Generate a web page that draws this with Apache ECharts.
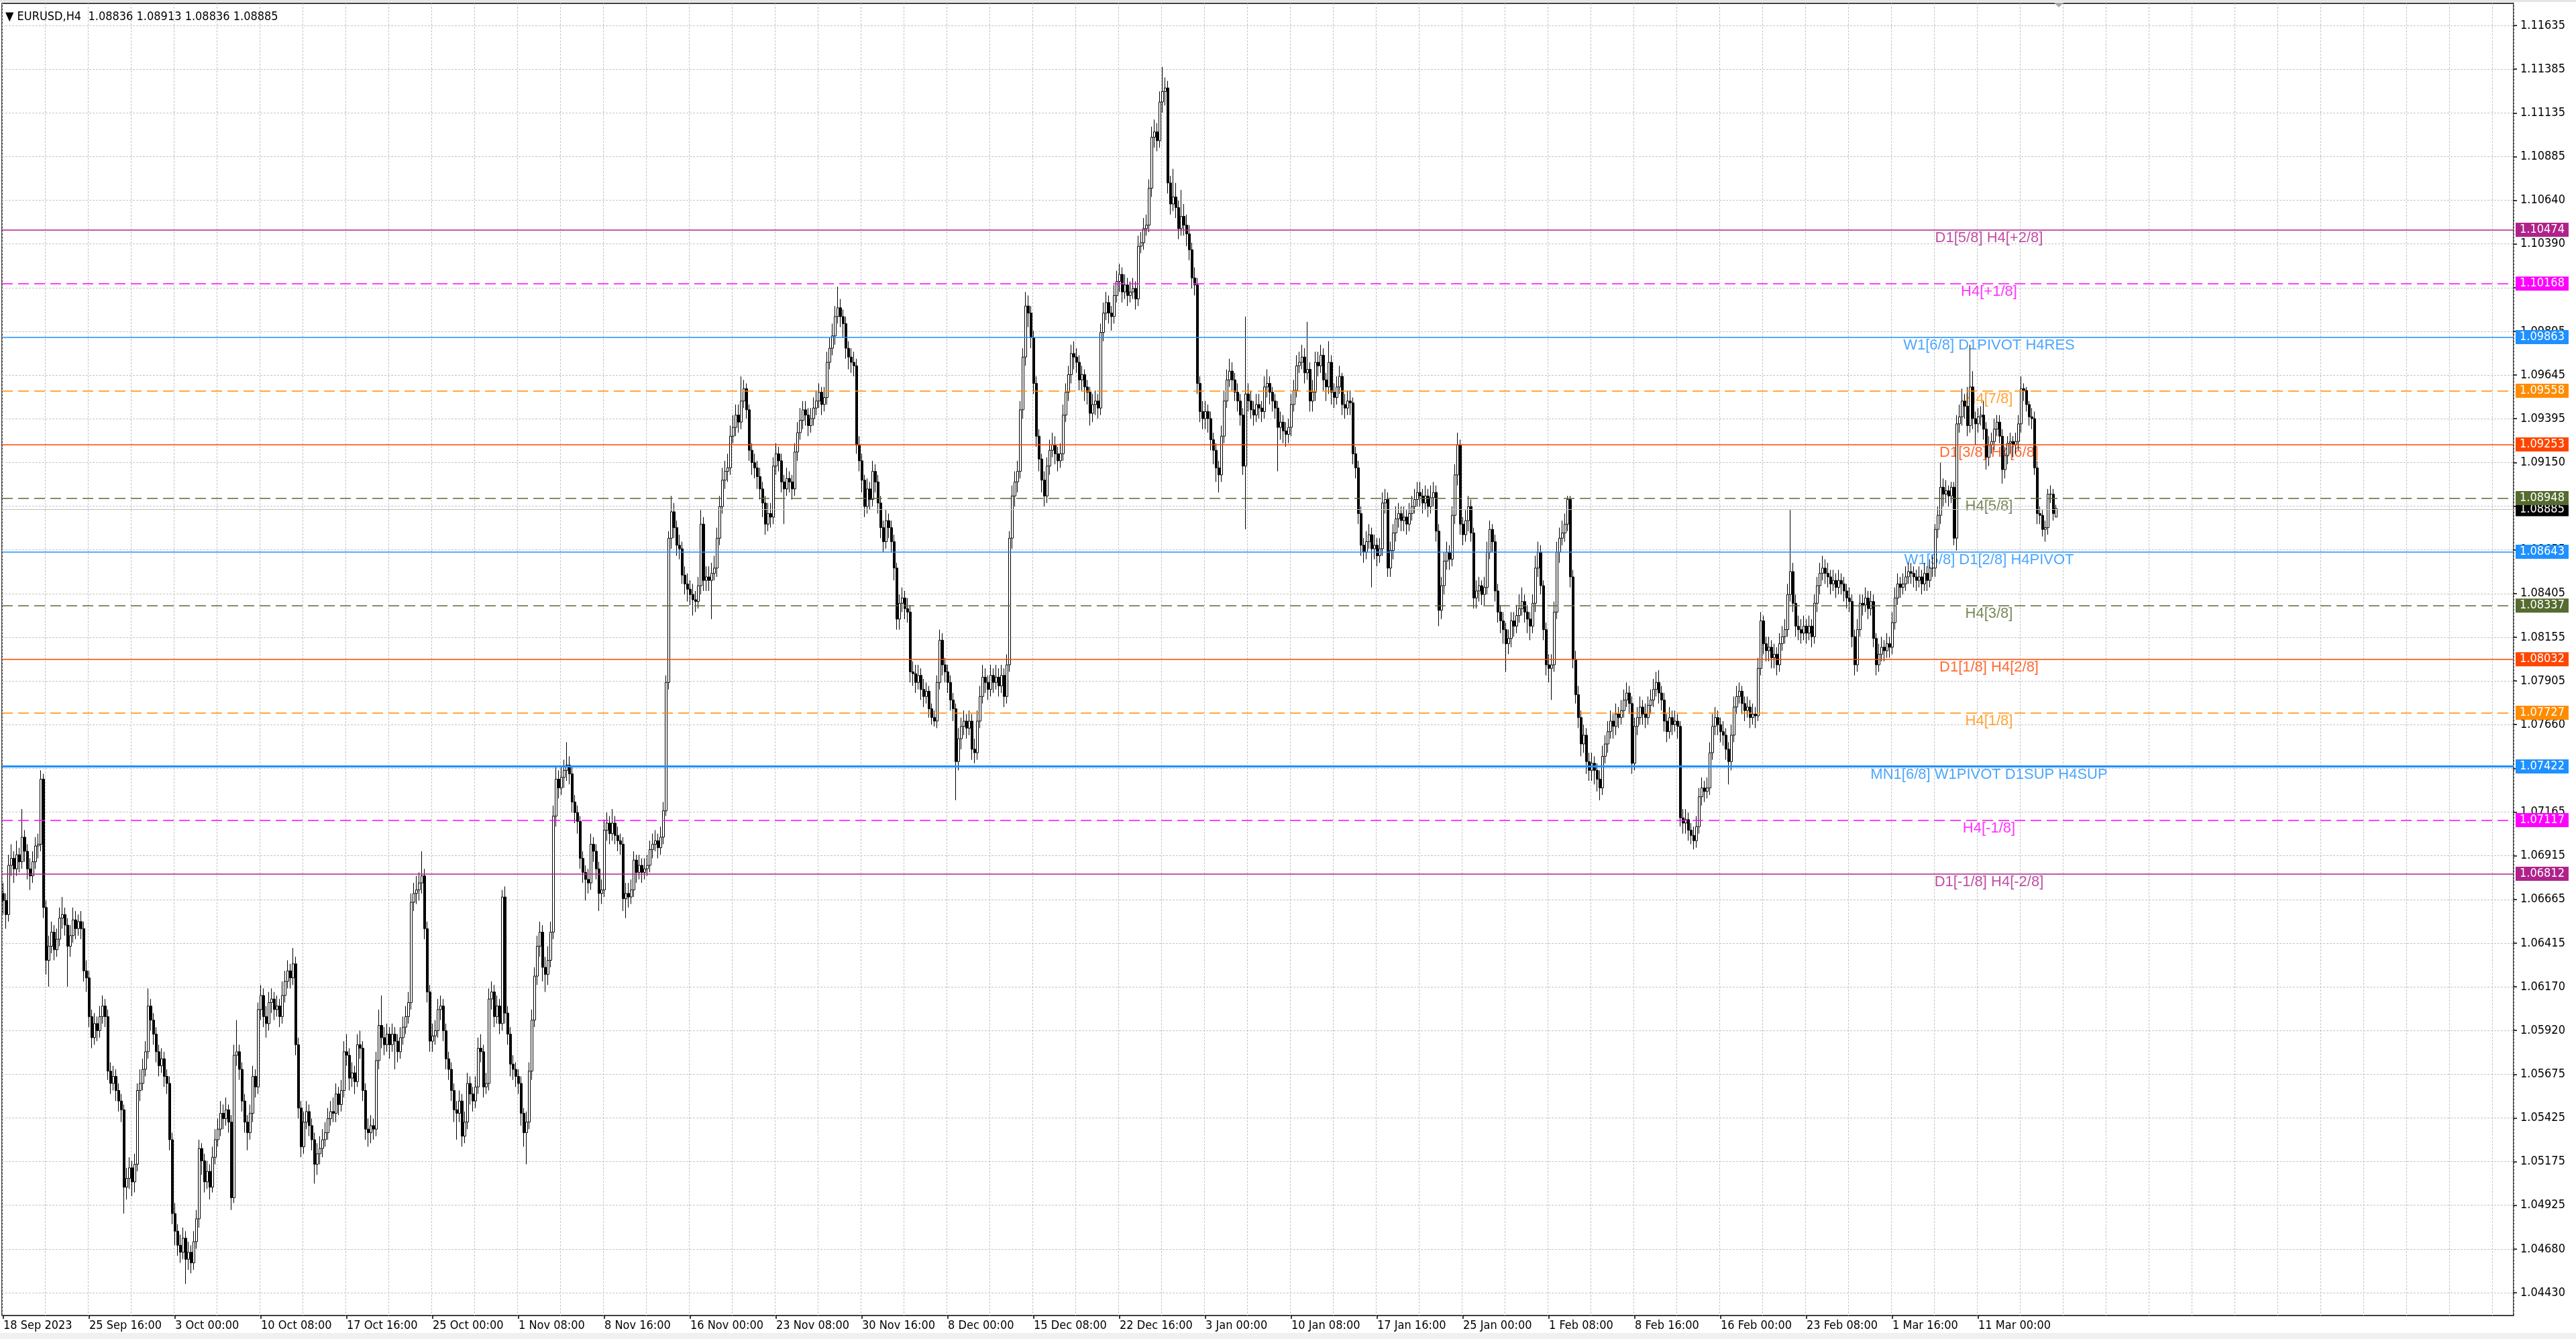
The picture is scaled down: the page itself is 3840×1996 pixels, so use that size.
<!DOCTYPE html>
<html lang="en">
<head>
<meta charset="UTF-8">
<title>EURUSD,H4</title>
<script src="https://cdn.jsdelivr.net/npm/echarts@6.0.0/dist/echarts.min.js"></script>
<style>
    html, body { margin: 0; padding: 0; background: #ffffff; }
    #main { width: 3840px; height: 1996px; }
</style>
</head>
<body>
<div id="main"></div>
<script type="text/javascript">
// H4 bars, prices in pips (price * 10000), one row = 16 bars
var opens = [
10670,10666,10658,10686,10690,10684,10692,10688,10702,10694,10684,10680,10688,10697,10698,10735,
10662,10632,10640,10648,10638,10644,10656,10658,10652,10640,10646,10655,10650,10654,10650,10626,
10622,10600,10588,10596,10592,10600,10606,10600,10569,10562,10566,10558,10552,10547,10503,10508,
10514,10506,10516,10558,10562,10570,10580,10606,10598,10590,10580,10572,10576,10566,10562,10530,
10488,10478,10470,10466,10474,10462,10466,10460,10472,10485,10525,10518,10506,10512,10503,10520,
10530,10536,10545,10542,10547,10540,10497,10578,10580,10570,10552,10540,10534,10545,10566,10560,
10604,10612,10600,10596,10608,10610,10604,10606,10600,10612,10620,10626,10622,10630,10584,10548,
10526,10540,10546,10538,10530,10516,10522,10525,10530,10534,10542,10546,10545,10556,10550,10558,
10580,10578,10565,10568,10563,10584,10582,10558,10536,10534,10538,10536,10575,10595,10588,10584,
10590,10584,10590,10586,10580,10588,10594,10600,10608,10665,10670,10672,10676,10680,10650,10614,
10586,10589,10592,10604,10606,10592,10576,10570,10558,10547,10545,10552,10532,10540,10562,10556,
10552,10560,10582,10580,10560,10562,10610,10614,10600,10606,10596,10668,10602,10590,10573,10570,
10566,10562,10545,10534,10540,10569,10598,10623,10640,10648,10628,10624,10632,10648,10714,10735,
10730,10736,10740,10743,10738,10722,10716,10711,10690,10682,10678,10676,10698,10694,10684,10670,
10672,10706,10710,10704,10710,10703,10700,10698,10667,10670,10668,10672,10689,10682,10686,10682,
10684,10686,10695,10698,10700,10696,10702,10717,10790,10872,10887,10878,10868,10866,10851,10846,
10843,10840,10837,10836,10845,10880,10848,10850,10848,10852,10855,10872,10890,10905,10910,10912,
10930,10935,10942,10938,10950,10957,10945,10922,10915,10912,10907,10900,10892,10880,10886,10884,
10913,10920,10916,10904,10900,10906,10904,10900,10921,10932,10939,10945,10942,10936,10940,10946,
10950,10955,10948,10952,10972,10980,10987,10998,11003,10998,10994,10980,10975,10972,10970,10925,
10916,10905,10890,10900,10894,10910,10904,10892,10878,10870,10882,10878,10870,10855,10826,10835,
10838,10832,10830,10796,10795,10790,10794,10786,10782,10785,10775,10770,10768,10790,10814,10800,
10796,10790,10780,10775,10745,10758,10765,10768,10764,10768,10752,10750,10768,10782,10793,10790,
10786,10794,10790,10793,10788,10794,10782,10800,10872,10896,10904,10910,10945,10975,11004,11000,
10986,10960,10930,10917,10905,10896,10913,10922,10925,10920,10916,10920,10942,10955,10965,10977,
10975,10972,10962,10965,10958,10955,10943,10948,10950,10946,10989,11000,11006,11000,10998,11010,
11018,11022,11012,11016,11010,11012,11014,11008,11038,11040,11048,11050,11071,11100,11103,11098,
11120,11126,11128,11074,11062,11066,11060,11048,11055,11050,11045,11036,11020,11016,10960,10944,
10940,10944,10940,10928,10922,10912,10908,10930,10950,10962,10967,10962,10955,10950,10942,10913,
10954,10950,10945,10942,10948,10946,10944,10958,10960,10955,10950,10946,10935,10938,10933,10931,
10935,10948,10956,10970,10972,10975,10966,10968,10950,10955,10972,10970,10976,10962,10958,10972,
10955,10952,10958,10964,10948,10946,10950,10949,10920,10912,10886,10868,10864,10870,10874,10866,
10868,10862,10866,10892,10894,10855,10865,10875,10883,10886,10882,10884,10880,10886,10890,10894,
10898,10896,10892,10896,10890,10895,10898,10876,10831,10845,10859,10864,10860,10885,10908,10925,
10880,10874,10882,10890,10875,10838,10842,10845,10840,10844,10864,10877,10870,10842,10830,10825,
10820,10812,10815,10825,10822,10828,10832,10836,10830,10826,10822,10835,10855,10864,10845,10820,
10800,10798,10800,10830,10864,10872,10875,10880,10894,10850,10803,10783,10770,10755,10760,10745,
10740,10744,10740,10735,10730,10748,10755,10762,10768,10765,10772,10770,10774,10780,10784,10778,
10744,10765,10770,10776,10772,10770,10777,10780,10786,10790,10784,10780,10768,10762,10770,10766,
10768,10765,10713,10710,10712,10706,10703,10700,10708,10725,10730,10728,10730,10750,10765,10770,
10766,10762,10760,10752,10745,10760,10776,10782,10785,10778,10774,10776,10770,10772,10771,10798,
10825,10812,10808,10810,10804,10806,10800,10812,10816,10820,10840,10853,10835,10822,10820,10818,
10822,10818,10822,10816,10835,10845,10852,10855,10852,10850,10846,10848,10844,10848,10846,10842,
10838,10836,10816,10800,10820,10835,10834,10838,10832,10836,10815,10800,10806,10810,10808,10812,
10810,10824,10838,10846,10844,10846,10850,10853,10852,10850,10848,10850,10846,10852,10848,10855,
10855,10877,10885,10901,10897,10899,10896,10901,10872,10937,10941,10950,10947,10936,10958,10940,
10937,10941,10942,10934,10918,10925,10927,10934,10938,10930,10911,10919,10926,10927,10925,10927,
10937,10957,10956,10948,10941,10940,10912,10886,10885,10877,10878,10897,10897,10884
];
var closes = [
10666,10658,10686,10690,10684,10692,10688,10702,10694,10684,10680,10688,10697,10698,10735,10662,
10632,10640,10648,10638,10644,10656,10658,10652,10640,10646,10655,10650,10654,10650,10626,10622,
10600,10588,10596,10592,10600,10606,10600,10569,10562,10566,10558,10552,10547,10503,10508,10514,
10506,10516,10558,10562,10570,10580,10606,10598,10590,10580,10572,10576,10566,10562,10530,10488,
10478,10470,10466,10474,10462,10466,10460,10472,10485,10525,10518,10506,10512,10503,10520,10530,
10536,10545,10542,10547,10540,10497,10578,10580,10570,10552,10540,10534,10545,10566,10560,10604,
10612,10600,10596,10608,10610,10604,10606,10600,10612,10620,10626,10622,10630,10584,10548,10526,
10540,10546,10538,10530,10516,10522,10525,10530,10534,10542,10546,10545,10556,10550,10558,10580,
10578,10565,10568,10563,10584,10582,10558,10536,10534,10538,10536,10575,10595,10588,10584,10590,
10584,10590,10586,10580,10588,10594,10600,10608,10665,10670,10672,10676,10680,10650,10614,10586,
10589,10592,10604,10606,10592,10576,10570,10558,10547,10545,10552,10532,10540,10562,10556,10552,
10560,10582,10580,10560,10562,10610,10614,10600,10606,10596,10668,10602,10590,10573,10570,10566,
10562,10545,10534,10540,10569,10598,10623,10640,10648,10628,10624,10632,10648,10714,10735,10730,
10736,10740,10743,10738,10722,10716,10711,10690,10682,10678,10676,10698,10694,10684,10670,10672,
10706,10710,10704,10710,10703,10700,10698,10667,10670,10668,10672,10689,10682,10686,10682,10684,
10686,10695,10698,10700,10696,10702,10717,10790,10872,10887,10878,10868,10866,10851,10846,10843,
10840,10837,10836,10845,10880,10848,10850,10848,10852,10855,10872,10890,10905,10910,10912,10930,
10935,10942,10938,10950,10957,10945,10922,10915,10912,10907,10900,10892,10880,10886,10884,10913,
10920,10916,10904,10900,10906,10904,10900,10921,10932,10939,10945,10942,10936,10940,10946,10950,
10955,10948,10952,10972,10980,10987,10998,11003,10998,10994,10980,10975,10972,10970,10925,10916,
10905,10890,10900,10894,10910,10904,10892,10878,10870,10882,10878,10870,10855,10826,10835,10838,
10832,10830,10796,10795,10790,10794,10786,10782,10785,10775,10770,10768,10790,10814,10800,10796,
10790,10780,10775,10745,10758,10765,10768,10764,10768,10752,10750,10768,10782,10793,10790,10786,
10794,10790,10793,10788,10794,10782,10800,10872,10896,10904,10910,10945,10975,11004,11000,10986,
10960,10930,10917,10905,10896,10913,10922,10925,10920,10916,10920,10942,10955,10965,10977,10975,
10972,10962,10965,10958,10955,10943,10948,10950,10946,10989,11000,11006,11000,10998,11010,11018,
11022,11012,11016,11010,11012,11014,11008,11038,11040,11048,11050,11071,11100,11103,11098,11120,
11126,11128,11074,11062,11066,11060,11048,11055,11050,11045,11036,11020,11016,10960,10944,10940,
10944,10940,10928,10922,10912,10908,10930,10950,10962,10967,10962,10955,10950,10942,10913,10954,
10950,10945,10942,10948,10946,10944,10958,10960,10955,10950,10946,10935,10938,10933,10931,10935,
10948,10956,10970,10972,10975,10966,10968,10950,10955,10972,10970,10976,10962,10958,10972,10955,
10952,10958,10964,10948,10946,10950,10949,10920,10912,10886,10868,10864,10870,10874,10866,10868,
10862,10866,10892,10894,10855,10865,10875,10883,10886,10882,10884,10880,10886,10890,10894,10898,
10896,10892,10896,10890,10895,10898,10876,10831,10845,10859,10864,10860,10885,10908,10925,10880,
10874,10882,10890,10875,10838,10842,10845,10840,10844,10864,10877,10870,10842,10830,10825,10820,
10812,10815,10825,10822,10828,10832,10836,10830,10826,10822,10835,10855,10864,10845,10820,10800,
10798,10800,10830,10864,10872,10875,10880,10894,10850,10803,10783,10770,10755,10760,10745,10740,
10744,10740,10735,10730,10748,10755,10762,10768,10765,10772,10770,10774,10780,10784,10778,10744,
10765,10770,10776,10772,10770,10777,10780,10786,10790,10784,10780,10768,10762,10770,10766,10768,
10765,10713,10710,10712,10706,10703,10700,10708,10725,10730,10728,10730,10750,10765,10770,10766,
10762,10760,10752,10745,10760,10776,10782,10785,10778,10774,10776,10770,10772,10771,10798,10825,
10812,10808,10810,10804,10806,10800,10812,10816,10820,10840,10853,10835,10822,10820,10818,10822,
10818,10822,10816,10835,10845,10852,10855,10852,10850,10846,10848,10844,10848,10846,10842,10838,
10836,10816,10800,10820,10835,10834,10838,10832,10836,10815,10800,10806,10810,10808,10812,10810,
10824,10838,10846,10844,10846,10850,10853,10852,10850,10848,10850,10846,10852,10848,10855,10855,
10877,10885,10901,10897,10899,10896,10901,10872,10937,10941,10950,10947,10936,10958,10940,10937,
10941,10942,10934,10918,10925,10927,10934,10938,10930,10911,10919,10926,10927,10925,10927,10937,
10957,10956,10948,10941,10940,10912,10886,10885,10877,10878,10897,10897,10886,10889
];
var highs = [
10676,10670,10692,10698,10694,10700,10696,10718,10706,10698,10690,10694,10702,10704,10740,10738,
10666,10646,10654,10652,10650,10662,10668,10662,10656,10652,10662,10660,10658,10660,10654,10632,
10626,10604,10602,10600,10606,10612,10610,10604,10574,10572,10570,10562,10556,10550,10514,10520,
10518,10522,10562,10570,10576,10586,10616,10610,10602,10594,10584,10582,10580,10570,10566,10534,
10494,10482,10476,10480,10478,10472,10470,10478,10490,10530,10528,10522,10518,10516,10526,10536,
10542,10552,10550,10554,10550,10544,10584,10598,10584,10574,10556,10544,10550,10572,10570,10608,
10618,10616,10606,10614,10616,10614,10612,10610,10620,10626,10632,10630,10639,10634,10588,10552,
10546,10552,10550,10542,10534,10528,10532,10536,10540,10548,10552,10554,10562,10560,10564,10586,
10590,10582,10574,10572,10590,10592,10586,10562,10542,10544,10542,10580,10604,10612,10594,10596,
10594,10596,10594,10590,10594,10600,10606,10614,10670,10676,10680,10682,10694,10684,10654,10618,
10596,10598,10610,10612,10610,10596,10580,10574,10562,10552,10558,10556,10546,10568,10566,10560,
10566,10588,10590,10584,10568,10616,10620,10618,10612,10610,10672,10674,10606,10594,10578,10574,
10570,10566,10548,10546,10574,10604,10628,10646,10654,10652,10634,10640,10654,10720,10742,10740,
10742,10746,10756,10748,10742,10726,10720,10714,10694,10686,10684,10704,10702,10698,10688,10678,
10712,10716,10714,10718,10714,10708,10704,10702,10676,10676,10678,10694,10692,10692,10690,10690,
10692,10700,10704,10706,10704,10708,10722,10794,10876,10896,10892,10882,10874,10870,10856,10852,
10848,10846,10842,10850,10888,10884,10856,10856,10858,10862,10878,10896,10912,10916,10920,10936,
10942,10948,10948,10964,10962,10960,10948,10926,10920,10916,10912,10904,10896,10892,10892,10918,
10926,10924,10920,10908,10912,10910,10908,10926,10938,10946,10950,10950,10946,10946,10952,10956,
10960,10958,10958,10978,10986,10994,11004,11015,11008,11002,10998,10984,10980,10978,10974,10930,
10920,10908,10906,10904,10916,10914,10908,10896,10882,10888,10886,10882,10874,10858,10840,10844,
10842,10838,10834,10802,10800,10800,10798,10792,10790,10788,10778,10774,10794,10820,10818,10804,
10800,10794,10784,10778,10764,10770,10774,10772,10774,10772,10758,10774,10788,10800,10798,10794,
10800,10798,10800,10798,10800,10798,10806,10876,10902,10910,10916,10950,10980,11012,11010,11004,
10990,10964,10934,10920,10910,10918,10928,10932,10930,10924,10926,10948,10960,10970,10982,10984,
10980,10976,10970,10968,10962,10958,10954,10956,10954,10994,11006,11012,11010,11004,11016,11024,
11028,11026,11022,11020,11018,11020,11018,11044,11046,11054,11056,11076,11106,11110,11108,11126,
11140,11134,11132,11078,11082,11074,11064,11070,11062,11056,11050,11040,11026,11020,10964,10950,
10950,10948,10944,10932,10926,10916,10936,10956,10968,10974,10972,10966,10960,10954,10946,10998,
10960,10956,10950,10954,10954,10950,10964,10968,10964,10958,10954,10950,10944,10942,10938,10940,
10954,10962,10976,10978,10982,10980,10995,10972,10962,10978,10978,10982,10980,10966,10984,10976,
10960,10964,10970,10966,10954,10956,10956,10952,10924,10916,10890,10872,10876,10880,10878,10874,
10872,10872,10898,10900,10898,10870,10880,10890,10892,10890,10890,10888,10892,10896,10900,10904,
10904,10900,10902,10900,10902,10904,10902,10880,10850,10864,10870,10868,10890,10914,10932,10928,
10884,10888,10896,10894,10878,10848,10850,10848,10850,10870,10882,10880,10874,10846,10834,10830,
10824,10820,10830,10830,10834,10840,10844,10840,10834,10830,10840,10862,10870,10868,10848,10824,
10806,10806,10836,10870,10878,10882,10886,10896,10896,10854,10808,10788,10774,10766,10764,10750,
10750,10748,10744,10740,10754,10760,10768,10774,10772,10778,10776,10780,10786,10790,10788,10782,
10770,10776,10782,10780,10778,10782,10786,10792,10796,10797,10788,10784,10772,10776,10774,10774,
10772,10768,10718,10718,10716,10710,10708,10714,10730,10736,10734,10736,10756,10772,10776,10774,
10770,10768,10764,10756,10766,10782,10788,10790,10788,10782,10782,10780,10778,10776,10804,10830,
10828,10816,10816,10814,10812,10810,10818,10822,10826,10846,10888,10858,10840,10828,10826,10828,
10826,10828,10826,10840,10850,10858,10862,10860,10858,10854,10854,10852,10854,10852,10850,10846,
10844,10840,10820,10826,10840,10840,10844,10842,10842,10840,10818,10812,10816,10814,10818,10816,
10830,10844,10852,10850,10852,10856,10858,10858,10856,10854,10856,10854,10858,10856,10860,10862,
10880,10890,10915,10906,10905,10902,10904,10904,10942,10948,10957,10954,10958,10982,10967,10944,
10946,10947,10950,10938,10930,10932,10940,10942,10942,10934,10924,10930,10932,10930,10932,10942,
10964,10960,10958,10950,10946,10944,10916,10890,10888,10882,10900,10902,10900,10891
];
var lows = [
10658,10650,10654,10680,10676,10680,10682,10684,10688,10678,10672,10676,10684,10690,10694,10656,
10624,10617,10636,10632,10634,10640,10650,10646,10617,10634,10642,10644,10646,10644,10620,10614,
10594,10582,10584,10586,10588,10596,10594,10564,10556,10558,10552,10546,10540,10488,10496,10502,
10498,10500,10512,10552,10558,10566,10576,10592,10584,10574,10566,10568,10560,10556,10524,10482,
10470,10464,10460,10462,10448,10456,10454,10456,10468,10480,10510,10500,10502,10496,10500,10516,
10526,10532,10536,10538,10534,10490,10494,10572,10564,10546,10534,10524,10530,10540,10554,10556,
10598,10594,10588,10592,10602,10598,10600,10594,10596,10608,10616,10616,10618,10578,10542,10520,
10522,10536,10532,10524,10505,10510,10516,10520,10526,10530,10538,10540,10540,10544,10546,10554,
10572,10558,10560,10556,10560,10576,10552,10530,10526,10528,10530,10532,10570,10582,10578,10580,
10576,10580,10570,10574,10576,10584,10590,10596,10604,10660,10664,10666,10670,10644,10608,10580,
10580,10584,10588,10598,10586,10570,10564,10552,10540,10530,10540,10526,10528,10536,10550,10546,
10548,10556,10574,10554,10556,10558,10604,10594,10596,10590,10592,10596,10584,10566,10564,10560,
10556,10538,10526,10516,10536,10564,10594,10618,10634,10620,10614,10618,10628,10644,10708,10724,
10726,10730,10734,10732,10716,10710,10704,10684,10676,10666,10670,10672,10688,10678,10660,10664,
10668,10700,10698,10700,10698,10694,10692,10660,10656,10662,10664,10668,10676,10678,10676,10678,
10680,10682,10690,10694,10690,10692,10698,10714,10786,10866,10872,10862,10860,10846,10840,10836,
10834,10828,10830,10832,10840,10842,10842,10842,10826,10848,10850,10868,10886,10900,10904,10908,
10926,10930,10932,10934,10946,10940,10916,10908,10906,10900,10894,10884,10874,10876,10878,10880,
10908,10910,10898,10880,10896,10898,10894,10896,10916,10928,10934,10936,10930,10932,10936,10942,
10946,10942,10944,10948,10968,10976,10982,10994,10992,10986,10974,10968,10966,10964,10920,10910,
10898,10884,10886,10888,10890,10898,10886,10872,10864,10866,10872,10864,10848,10820,10820,10830,
10826,10824,10790,10788,10784,10786,10780,10776,10778,10770,10766,10765,10764,10786,10794,10790,
10784,10774,10768,10723,10740,10752,10760,10758,10760,10746,10744,10746,10764,10778,10784,10780,
10782,10784,10786,10782,10784,10776,10778,10796,10866,10890,10898,10906,10940,10970,10992,10980,
10954,10924,10910,10898,10890,10892,10908,10918,10914,10910,10912,10916,10938,10950,10960,10968,
10966,10956,10956,10950,10948,10936,10938,10942,10940,10942,10984,10996,10994,10990,10994,11006,
11012,11006,11008,11004,11006,11008,11002,11004,11034,11036,11044,11046,11066,11094,11092,11094,
11114,11118,11068,11056,11058,11054,11042,11044,11044,11038,11030,11014,11010,10954,10938,10934,
10934,10932,10922,10914,10904,10898,10904,10926,10946,10958,10956,10950,10944,10936,10908,10877,
10944,10940,10936,10938,10940,10938,10940,10952,10948,10944,10940,10910,10928,10926,10924,10926,
10930,10944,10952,10966,10968,10960,10962,10944,10944,10950,10964,10966,10956,10950,10954,10948,
10946,10948,10954,10942,10940,10942,10942,10914,10906,10880,10862,10858,10860,10866,10844,10860,
10856,10858,10862,10886,10850,10850,10860,10870,10878,10876,10876,10874,10876,10882,10886,10890,
10890,10886,10888,10884,10886,10890,10870,10822,10826,10840,10854,10854,10856,10880,10902,10874,
10868,10870,10876,10870,10832,10832,10836,10834,10834,10840,10860,10864,10836,10824,10818,10812,
10796,10806,10810,10816,10818,10824,10828,10824,10818,10814,10818,10830,10850,10840,10814,10794,
10790,10780,10796,10826,10858,10868,10870,10876,10844,10798,10778,10764,10748,10750,10738,10734,
10734,10732,10728,10723,10726,10744,10750,10758,10758,10760,10764,10766,10770,10776,10772,10738,
10740,10760,10766,10766,10764,10766,10772,10776,10782,10778,10774,10762,10756,10758,10760,10762,
10758,10708,10704,10704,10700,10698,10695,10696,10704,10720,10722,10724,10726,10746,10760,10760,
10756,10754,10746,10732,10740,10756,10772,10778,10772,10768,10770,10764,10766,10764,10768,10794,
10806,10802,10802,10798,10798,10794,10796,10808,10812,10816,10836,10830,10816,10814,10812,10814,
10812,10814,10810,10812,10830,10840,10848,10846,10844,10840,10842,10838,10840,10840,10836,10832,
10830,10810,10794,10796,10816,10828,10830,10826,10828,10810,10794,10796,10802,10802,10804,10804,
10806,10820,10834,10838,10840,10842,10846,10846,10844,10842,10844,10840,10842,10842,10844,10850,
10850,10872,10880,10890,10892,10890,10892,10868,10865,10932,10936,10940,10930,10932,10934,10925,
10932,10936,10928,10911,10913,10920,10922,10930,10926,10903,10906,10914,10920,10918,10920,10922,
10932,10950,10944,10936,10934,10908,10880,10880,10873,10870,10874,10892,10882,10884
];

// time labels, one every 32 bars
var dateLabels = ['18 Sep 2023', '25 Sep 16:00', '3 Oct 00:00', '10 Oct 08:00', '17 Oct 16:00', '25 Oct 00:00',
    '1 Nov 08:00', '8 Nov 16:00', '16 Nov 00:00', '23 Nov 08:00', '30 Nov 16:00', '8 Dec 00:00',
    '15 Dec 08:00', '22 Dec 16:00', '3 Jan 00:00', '10 Jan 08:00', '17 Jan 16:00', '25 Jan 00:00',
    '1 Feb 08:00', '8 Feb 16:00', '16 Feb 00:00', '23 Feb 08:00', '1 Mar 16:00', '11 Mar 00:00'];

// price scale labels, bottom to top
var tickLabels = ['1.04430', '1.04680', '1.04925', '1.05175', '1.05425', '1.05675', '1.05920', '1.06170',
    '1.06415', '1.06665', '1.06915', '1.07165', '1.07410', '1.07660', '1.07905', '1.08155', '1.08405',
    '1.08655', '1.08900', '1.09150', '1.09395', '1.09645', '1.09895', '1.10140', '1.10390', '1.10640',
    '1.10885', '1.11135', '1.11385', '1.11635'];

var lastBar = ['1.08836', '1.08913', '1.08836', '1.08885'];
var bidPrice = 1.08885;

var levelValues = [1.10474, 1.10168, 1.09863, 1.09558, 1.09253, 1.08948, 1.08643, 1.08337, 1.08032,
    1.07727, 1.07422, 1.07117, 1.06812];
var levelNames = ['D1[5/8] H4[+2/8]', 'H4[+1/8]', 'W1[6/8] D1PIVOT H4RES', 'H4[7/8]', 'D1[3/8] H4[6/8]',
    'H4[5/8]', 'W1[5/8] D1[2/8] H4PIVOT', 'H4[3/8]', 'D1[1/8] H4[2/8]', 'H4[1/8]',
    'MN1[6/8] W1PIVOT D1SUP H4SUP', 'H4[-1/8]', 'D1[-1/8] H4[-2/8]'];

// styles of the level lines
var levelColors = ['#B0228A', '#FF00FF', '#1E90FF', '#FF8C00', '#FF4500', '#556B2F', '#1E90FF',
    '#556B2F', '#FF4500', '#FF8C00', '#1E90FF', '#FF00FF', '#B0228A'];
var levelDashed = [false, true, false, true, false, true, false, true, false, true, false, true, false];
var levelWidths = [1.5, 1.5, 1.5, 1.5, 1.5, 1.5, 1.5, 1.5, 1.5, 1.5, 3, 1.5, 1.5];

var yMin = 1.0443;
var yStep = 0.0024845;
var yMax = +(yMin + yStep * (tickLabels.length - 1)).toFixed(7);
var slotCount = 936;      // bars that fit the window, incl. the empty shift on the right
var labelSlot = 740;      // where the level names sit
var barsPerLabel = 32;

var slots = [];
for (var i = 0; i < slotCount; i++) {
    slots.push(String(i));
}
var candles = [];
for (var i = 0; i < closes.length; i++) {
    candles.push([opens[i] / 10000, closes[i] / 10000, lows[i] / 10000, highs[i] / 10000]);
}

var axisFont = '"DejaVu Sans Condensed", "Liberation Sans", sans-serif';
var levelFont = '"Liberation Sans", Arial, sans-serif';

function isLabelSlot(index) {
    return index % barsPerLabel === 0 && index / barsPerLabel < dateLabels.length;
}

var lineData = [{
    name: bidPrice.toFixed(5),
    yAxis: bidPrice,
    lineStyle: { color: '#c0c0c0', width: 1, type: 'solid' },
    label: { backgroundColor: '#000000' }
}];
var textData = [];
for (var k = 0; k < levelValues.length; k++) {
    lineData.push({
        name: levelValues[k].toFixed(5),
        yAxis: levelValues[k],
        lineStyle: { color: levelColors[k], width: levelWidths[k], type: levelDashed[k] ? [16, 8] : 'solid' },
        label: { backgroundColor: levelColors[k] }
    });
    textData.push({ value: [labelSlot, levelValues[k]], label: { color: levelColors[k] } });
}

var myChart = echarts.init(document.getElementById('main'));
var option = {
    animation: false,
    backgroundColor: '#ffffff',
    textStyle: { fontFamily: axisFont },
    title: {
        text: '\u25BC EURUSD,H4  ' + lastBar.join(' '),
        left: 8,
        top: 16,
        padding: 0,
        textStyle: { fontSize: 18, fontWeight: 'normal', color: '#000000', fontFamily: axisFont }
    },
    graphic: [
        { type: 'rect', silent: true, shape: { x: 0, y: 0, width: 3840, height: 3 }, style: { fill: '#e4e4e4' } },
        { type: 'rect', silent: true, shape: { x: 0, y: 1987, width: 3840, height: 9 }, style: { fill: '#f0f0f0' } },
        { type: 'polygon', silent: true, shape: { points: [[3062, 4], [3076, 4], [3069, 11]] }, style: { fill: '#a8a8a8' } }
    ],
    grid: [
        { left: 3, right: 93, top: 38, bottom: 69, show: false },
        { left: 3, right: 93, top: 5, bottom: 35, show: true, borderColor: '#000000', borderWidth: 1.5, backgroundColor: 'transparent' }
    ],
    xAxis: [{
        type: 'category',
        gridIndex: 0,
        data: slots,
        boundaryGap: true,
        axisLine: { show: false },
        axisTick: { show: false },
        axisLabel: { show: false },
        splitLine: { show: false }
    }, {
        type: 'category',
        gridIndex: 1,
        data: slots,
        boundaryGap: true,
        axisLine: { show: false },
        axisTick: {
            show: true, alignWithLabel: true, length: 5,
            interval: function (index) { return isLabelSlot(index); },
            lineStyle: { color: '#000000', width: 1.5 }
        },
        axisLabel: {
            interval: function (index) { return isLabelSlot(index); },
            formatter: function (value, index) { return dateLabels[index / barsPerLabel] || ''; },
            align: 'left',
            margin: 6,
            fontSize: 18,
            color: '#000000',
            fontFamily: axisFont
        },
        splitLine: {
            show: true,
            interval: function (index) { return index % 16 === 0; },
            lineStyle: { color: '#c4c4c4', width: 1, type: [3, 2] }
        }
    }],
    yAxis: [{
        type: 'value',
        gridIndex: 0,
        position: 'right',
        min: yMin,
        max: yMax,
        interval: yStep,
        axisLine: { show: false },
        axisTick: { show: true, length: 5, lineStyle: { color: '#000000', width: 1.5 } },
        axisLabel: {
            margin: 10,
            fontSize: 18,
            color: '#000000',
            fontFamily: axisFont,
            formatter: function (v) {
                var k = Math.round((v - yMin) / yStep);
                return tickLabels[k] || '';
            }
        },
        splitLine: { show: true, lineStyle: { color: '#c4c4c4', width: 1, type: [3, 2] } }
    }, {
        type: 'value',
        gridIndex: 1,
        min: 0,
        max: 1,
        show: false
    }],
    series: [{
        name: 'levels',
        type: 'scatter',
        xAxisIndex: 0,
        yAxisIndex: 0,
        z: 1,
        silent: true,
        symbolSize: 1,
        itemStyle: { color: 'rgba(0,0,0,0)' },
        data: textData,
        label: {
            show: true,
            position: 'bottom',
            distance: 1,
            fontFamily: levelFont,
            fontSize: 22,
            formatter: function (p) { return levelNames[p.dataIndex]; }
        },
        markLine: {
            silent: true,
            symbol: ['none', 'none'],
            animation: false,
            precision: 5,
            emphasis: { disabled: true },
            label: {
                show: true,
                position: 'end',
                distance: 3,
                color: '#ffffff',
                fontSize: 18,
                fontFamily: axisFont,
                padding: [2, 6, 1, 6],
                formatter: '{b}'
            },
            data: lineData
        }
    }, {
        name: 'EURUSD,H4',
        type: 'candlestick',
        xAxisIndex: 0,
        yAxisIndex: 0,
        z: 3,
        silent: true,
        large: false,
        barWidth: 3,
        data: candles,
        itemStyle: {
            color: '#ffffff',
            color0: '#000000',
            borderColor: '#000000',
            borderColor0: '#000000',
            borderColorDoji: '#000000',
            borderWidth: 1
        }
    }]
};
myChart.setOption(option);
</script>
</body>
</html>
